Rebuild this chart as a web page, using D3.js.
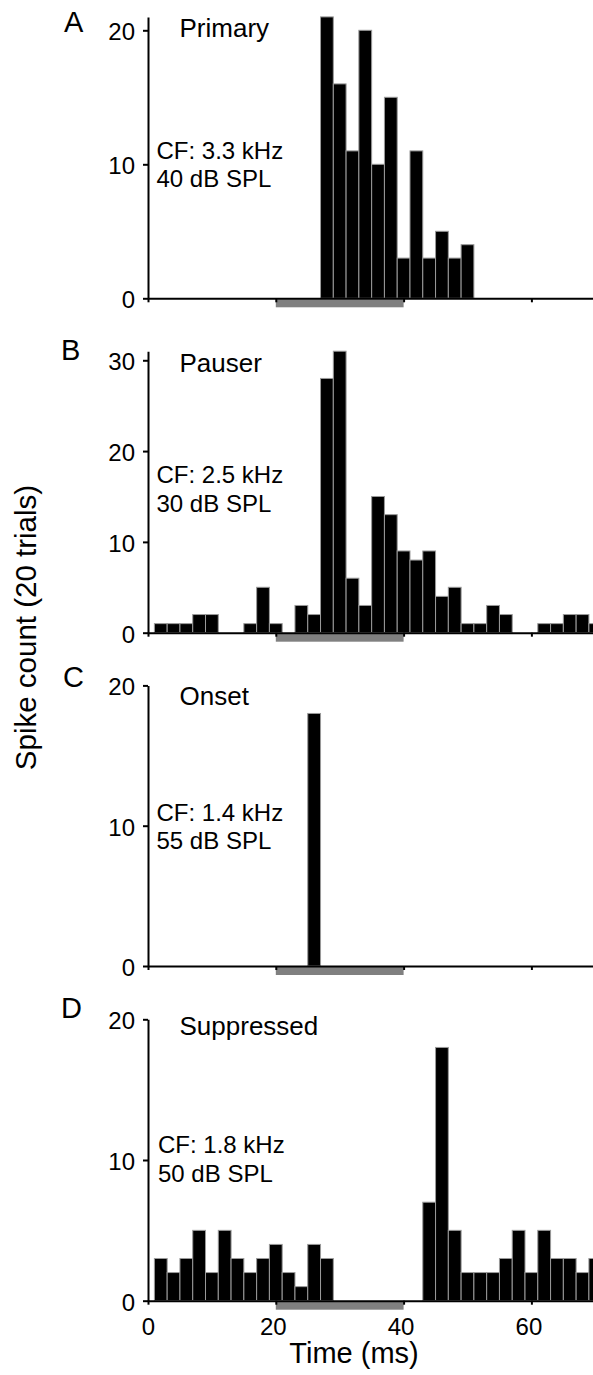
<!DOCTYPE html>
<html>
<head>
<meta charset="utf-8">
<script src="https://cdn.jsdelivr.net/npm/d3@7"></script>
<style>
  html, body { margin: 0; padding: 0; background: #fff; }
  svg { display: block; }
  text { font-family: "Liberation Sans", Arial, Helvetica, sans-serif; fill: #000; }
</style>
</head>
<body>
<svg id="chart" width="593" height="1375"></svg>
<script>
// PSTH bins: 2 ms wide, labelled by their centre time (ms)
const binCenters = [2, 4, 6, 8, 10, 12, 14, 16, 18, 20, 22, 24, 26, 28, 30, 32, 34, 36,
                    38, 40, 42, 44, 46, 48, 50, 52, 54, 56, 58, 60, 62, 64, 66, 68, 70];

// Spike counts per bin (20 trials)
const primaryCounts    = [0, 0, 0, 0, 0, 0, 0, 0, 0, 0, 0, 0, 0, 21, 16, 11, 20, 10,
                          15, 3, 11, 3, 5, 3, 4, 0, 0, 0, 0, 0, 0, 0, 0, 0, 0];
const pauserCounts     = [1, 1, 1, 2, 2, 0, 0, 1, 5, 1, 0, 3, 2, 28, 31, 6, 3, 15,
                          13, 9, 8, 9, 4, 5, 1, 1, 3, 2, 0, 0, 1, 1, 2, 2, 1];
const onsetCounts      = [0, 0, 0, 0, 0, 0, 0, 0, 0, 0, 0, 0, 18, 0, 0, 0, 0, 0,
                          0, 0, 0, 0, 0, 0, 0, 0, 0, 0, 0, 0, 0, 0, 0, 0, 0];
const suppressedCounts = [3, 2, 3, 5, 2, 5, 3, 2, 3, 4, 2, 1, 4, 3, 0, 0, 0, 0,
                          0, 0, 0, 7, 18, 5, 2, 2, 2, 3, 5, 2, 5, 3, 3, 2, 3];

const panelLetters = ["A", "B", "C", "D"];
const unitTypes    = ["Primary", "Pauser", "Onset", "Suppressed"];
const cfLabels     = ["CF: 3.3 kHz", "CF: 2.5 kHz", "CF: 1.4 kHz", "CF: 1.8 kHz"];
const levelLabels  = ["40 dB SPL", "30 dB SPL", "55 dB SPL", "50 dB SPL"];
const yMaxima      = [21, 31, 20, 20];
const yTickSets    = [[0, 10, 20], [0, 10, 20, 30], [0, 10, 20], [0, 10, 20]];
const xTicks       = [0, 20, 40, 60];
const stimulusWindow = [20, 40];   // tone on/off (ms)

const yAxisTitle = "Spike count (20 trials)";
const xAxisTitle = "Time (ms)";

const countsByPanel = [primaryCounts, pauserCounts, onsetCounts, suppressedCounts];

// Vertical layout of each panel (pixels)
const layout = [
  { base: 298.3,  top: 16.9,  letterX: 64, letterY: 31.5,   titleY: 37,   cfX: 156.5, cfY: 158.5,  lvY: 186.7 },
  { base: 632.7,  top: 351.2, letterX: 61, letterY: 360,    titleY: 371.7, cfX: 156.5, cfY: 483.3, lvY: 511.7 },
  { base: 966,    top: 685.4, letterX: 63, letterY: 686.5,  titleY: 705,  cfX: 156.5, cfY: 820.7,  lvY: 849 },
  { base: 1300.7, top: 1019.3, letterX: 61, letterY: 1018.3, titleY: 1035, cfX: 158,  cfY: 1153.3, lvY: 1181.7 }
];

const svg = d3.select("#chart");
svg.append("rect").attr("width", 593).attr("height", 1375).attr("fill", "#fff");

const x = d3.scaleLinear().domain([0, 70]).range([148, 595.3]);
const binHalf = 1;

countsByPanel.forEach((counts, i) => {
  const L = layout[i];
  const y = d3.scaleLinear().domain([0, yMaxima[i]]).range([L.base, L.top]);
  const g = svg.append("g");

  // stimulus bar under the time axis
  g.append("rect")
    .attr("x", x(stimulusWindow[0]))
    .attr("width", x(stimulusWindow[1]) - x(stimulusWindow[0]))
    .attr("y", L.base + 1)
    .attr("height", 8)
    .attr("fill", "#808080");

  // histogram bars
  const bins = binCenters.map((c, k) => ({ c, v: counts[k] })).filter(d => d.v > 0);
  g.selectAll("rect.bar")
    .data(bins)
    .join("rect")
    .attr("class", "bar")
    .attr("x", d => x(d.c - binHalf))
    .attr("width", d => x(d.c + binHalf) - x(d.c - binHalf))
    .attr("y", d => y(d.v))
    .attr("height", d => y(0) - y(d.v))
    .attr("fill", "#000")
    .attr("stroke", "#9a9a9a")
    .attr("stroke-width", 1);

  // y axis
  const ya = g.append("g")
    .attr("transform", "translate(148,0)")
    .call(d3.axisLeft(y).tickValues(yTickSets[i]).tickSize(5).tickSizeOuter(0).tickPadding(8));
  ya.select(".domain").attr("stroke", "#000").attr("stroke-width", 2);
  ya.selectAll(".tick line").attr("stroke", "#000").attr("stroke-width", 2);
  ya.selectAll(".tick text")
    .attr("font-size", 24)
    .attr("font-family", "Liberation Sans, Arial, sans-serif")
    .attr("dy", "0.39em");

  // x axis
  const isLast = i === countsByPanel.length - 1;
  const xa = g.append("g")
    .attr("transform", `translate(0,${L.base})`)
    .call(d3.axisBottom(x).tickValues(xTicks).tickSize(4).tickSizeOuter(0)
      .tickFormat(isLast ? d3.format("d") : () => ""));
  xa.select(".domain").attr("stroke", "#000").attr("stroke-width", 2);
  xa.selectAll(".tick line").attr("stroke", "#000").attr("stroke-width", 2);
  xa.selectAll(".tick text")
    .attr("font-size", 24)
    .attr("font-family", "Liberation Sans, Arial, sans-serif")
    .attr("y", 17)
    .attr("dx", d => d === 0 ? 0 : -3)
    .attr("dy", "0.71em");

  // panel letter, unit type and stimulus annotation
  g.append("text").attr("x", L.letterX).attr("y", L.letterY)
    .attr("font-size", 29).text(panelLetters[i]);
  g.append("text").attr("x", 179.5).attr("y", L.titleY)
    .attr("font-size", 26).text(unitTypes[i]);
  g.append("text").attr("x", L.cfX).attr("y", L.cfY)
    .attr("font-size", 24).text(cfLabels[i]);
  g.append("text").attr("x", L.cfX).attr("y", L.lvY)
    .attr("font-size", 24).text(levelLabels[i]);
});

// shared axis titles
svg.append("text")
  .attr("transform", "translate(35.5,627.5) rotate(-90)")
  .attr("text-anchor", "middle")
  .attr("font-size", 29.5)
  .text(yAxisTitle);

svg.append("text")
  .attr("x", 354).attr("y", 1363)
  .attr("text-anchor", "middle")
  .attr("font-size", 29)
  .text(xAxisTitle);
</script>
</body>
</html>
